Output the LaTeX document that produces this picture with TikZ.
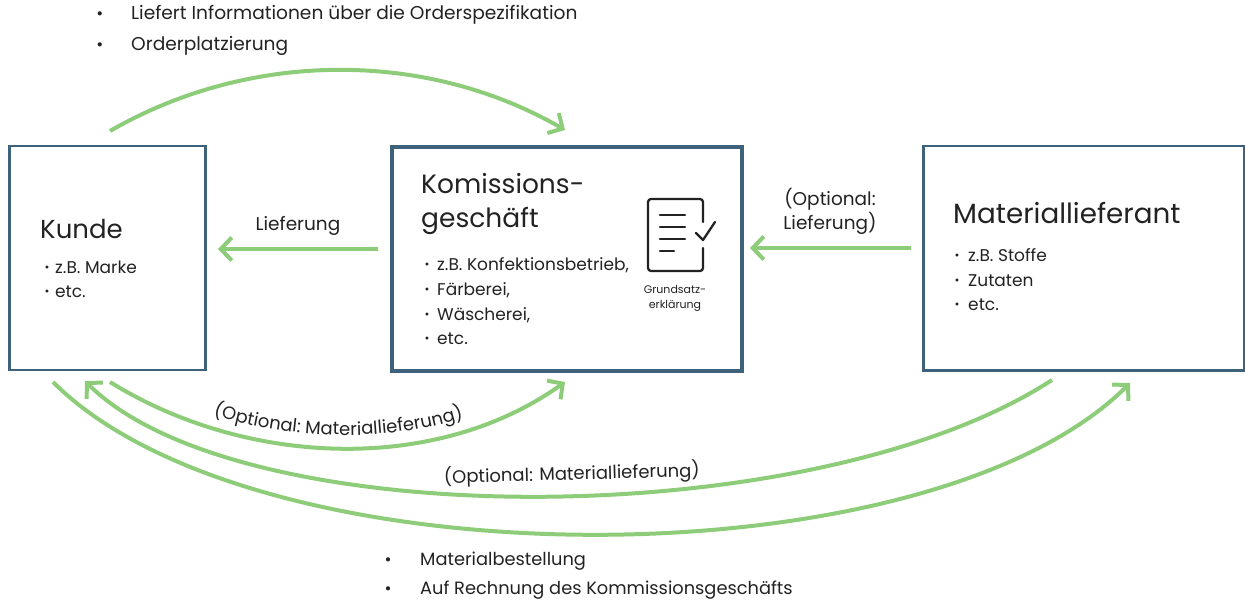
\documentclass[tikz,border=0pt]{standalone}
\usepackage{fontspec}
\setmainfont{Poppins}
\usetikzlibrary{arrows.meta,decorations.text}
\definecolor{grn}{RGB}{141,204,120}
\definecolor{frame}{RGB}{62,98,124}
\definecolor{ink}{RGB}{34,34,34}
\newcommand\fs[1]{\fontsize{#1}{#1}\selectfont}
\newcommand\bul{\raisebox{0.08em}{\scalebox{0.7}{•}}}
\tikzset{
  box/.style={draw=frame, line width=2.5pt, inner sep=0pt, anchor=north west},
  bigbox/.style={box, line width=4pt},
  txt/.style={inner sep=0pt, text=ink, anchor=base west},
  ctxt/.style={inner sep=0pt, text=ink, anchor=base},
  title/.style={txt, font=\fs{26}},
  item/.style={txt, font=\fs{17}},
  dot/.style={ctxt, font=\fs{17}},
  note/.style={txt, font=\fs{18}},
  lab/.style={ctxt, font=\fs{18.5}},
  arr/.style={draw=grn, line width=4pt, -{Straight Barb[length=11pt,width=23pt]}},
  icon/.style={draw=ink, line width=2.3pt, line cap=round, line join=round},
}
\begin{document}
\begin{tikzpicture}[x=1pt,y=-1pt]
\useasboundingbox (0,0) rectangle (1245,602);
% boxes
\node[box, minimum width=195.7pt, minimum height=224pt] (kunde) at (8.3,144.7) {};
\node[bigbox, minimum width=350.5pt, minimum height=223.5pt] (kom) at (389.5,145) {};
\node[box, minimum width=320.5pt, minimum height=224.5pt] (mat) at (922,144.7) {};
% Kunde text
\node[title, font=\fs{26}] (kt) at (40,238) {Kunde};
\node[dot] (kb1) at (47,273) {\bul};
\node[item] (ki1) at (55,273) {z.B. Marke};
\node[dot] (kb2) at (47,297) {\bul};
\node[item] (ki2) at (55,297) {etc.};
% Komissions text
\node[title, font=\fs{26.5}] (ct1) at (421,193) {Komissions-};
\node[title, font=\fs{26.5}] (ct2) at (421,227) {geschäft};
\node[dot] (cb1) at (427,270) {\bul};
\node[item] (ci1) at (437,270) {z.B. Konfektionsbetrieb,};
\node[dot] (cb2) at (427,295) {\bul};
\node[item] (ci2) at (437,295) {Färberei,};
\node[dot] (cb3) at (427,320) {\bul};
\node[item] (ci3) at (437,320) {Wäscherei,};
\node[dot] (cb4) at (427,344) {\bul};
\node[item] (ci4) at (437,344) {etc.};
% icon
\draw[icon] (703,222) -- (703,202) arc[start angle=0, end angle=90, radius=3pt] -- (651,199) arc[start angle=90, end angle=180, radius=3pt] -- (648,268) arc[start angle=180, end angle=270, radius=3pt] -- (700,271) arc[start angle=270, end angle=360, radius=3pt] -- (703,248);
\draw[icon] (660,215) -- (685,215) (660,227) -- (685,227) (660,239) -- (685,239) (660,251) -- (674,251);
\draw[icon] (696,233) -- (703,240) -- (715,222);
\node[ctxt, font=\fs{11}] (g1) at (675,293) {Grundsatz-};
\node[ctxt, font=\fs{11}] (g2) at (675,308) {erklärung};
% Material text
\node[title, font=\fs{27.8}] (mt) at (953,223) {Materiallieferant};
\node[dot] (mb1) at (957,261) {\bul};
\node[item] (mi1) at (968,261) {z.B. Stoffe};
\node[dot] (mb2) at (957,286) {\bul};
\node[item] (mi2) at (968,286) {Zutaten};
\node[dot] (mb3) at (957,310) {\bul};
\node[item] (mi3) at (968,310) {etc.};
% top and bottom notes
\node[ctxt, font=\fs{17}] (tb1) at (100,20) {•};
\node[note, font=\fs{18.6}] (tn1) at (131,20) {Liefert Informationen über die Orderspezifikation};
\node[ctxt, font=\fs{17}] (tb2) at (100,51) {•};
\node[note, font=\fs{18.6}] (tn2) at (131,51) {Orderplatzierung};
\node[ctxt, font=\fs{17}] (bb1) at (388,565) {•};
\node[note, font=\fs{17.8}] (bn1) at (420,565) {Materialbestellung};
\node[ctxt, font=\fs{17}] (bb2) at (388,594) {•};
\node[note, font=\fs{17.8}] (bn2) at (420,594) {Auf Rechnung des Kommissionsgeschäfts};
% connector end points
\coordinate (ka) at (110,131);
\coordinate (kb) at (565,130);
\coordinate (l1) at (378,249);
\coordinate (l2) at (218,249);
\coordinate (o1) at (911,248);
\coordinate (o2) at (750,248);
\coordinate (i1) at (110,382);
\coordinate (i2) at (565,382);
\coordinate (m1) at (1052,380);
\coordinate (m2) at (85,381);
\coordinate (u1) at (53,382);
\coordinate (u2) at (1130,383);
% connectors
\draw[arr] (ka) .. controls (249.5,50.5) and (425.5,49.5) .. (kb);
\draw[arr] (l1) -- (l2);
\node[lab] (ll) at (298,230) {Lieferung};
\draw[arr] (o1) -- (o2);
\node[lab] (ol1) at (830,205) {(Optional:};
\node[lab] (ol2) at (830,229) {Lieferung)};
\draw[arr] (i1) .. controls (245,466) and (435,475) .. (i2);
\path[decorate, decoration={text along path, text={|\fs{18}|(Optional: Materiallieferung)}, text align=center, text color=ink}] (115,371) .. controls (245,452) and (435,461) .. (560,371);
\draw[arr] (m1) .. controls (814,535) and (239,535) .. (m2);
\node[lab, font=\fs{18}, rotate=1.5] (ml) at (572,480) {(Optional: Materiallieferung)};
\draw[arr] (u1) .. controls (256,585) and (928,585) .. (u2);
\end{tikzpicture}
\end{document}
